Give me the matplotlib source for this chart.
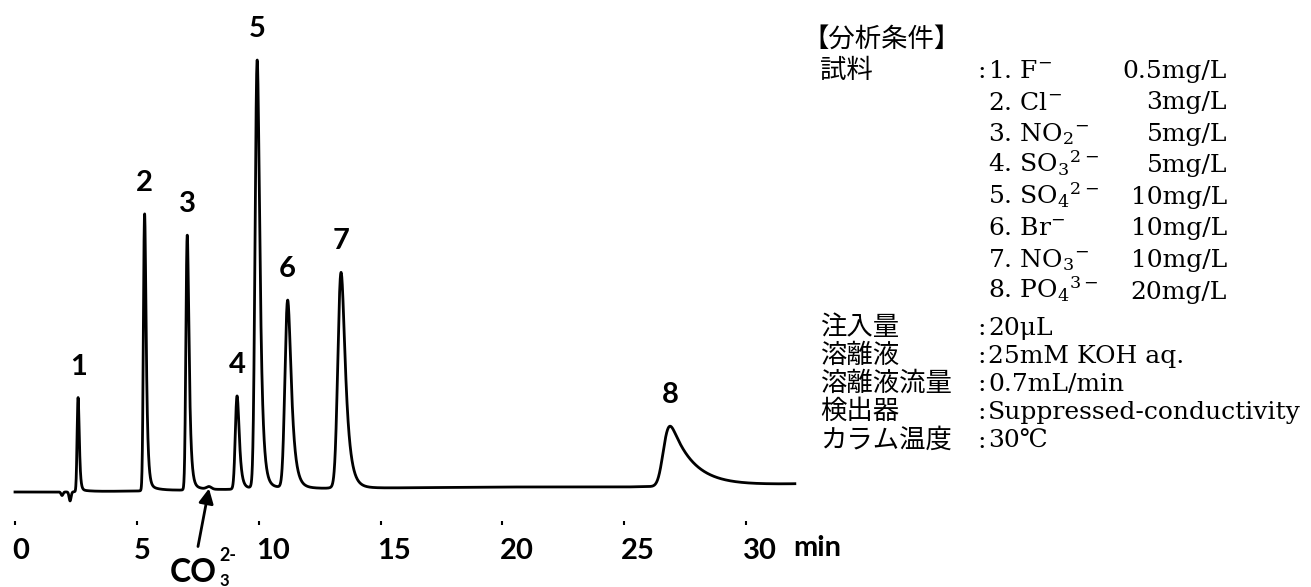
import numpy as np
import matplotlib
matplotlib.use("Agg")
import matplotlib.pyplot as plt

# ---- chromatogram data (time in min, signal in uS) ----
peak_ids = ["1", "2", "3", "4", "5", "6", "7", "8"]
ret_time = [2.59, 5.32, 7.07, 9.11, 9.94, 11.19, 13.38, 26.88]
height = [0.93, 2.73, 2.51, 0.91, 4.21, 1.83, 2.10, 0.60]
sigma = [0.035, 0.04, 0.045, 0.06, 0.07, 0.09, 0.105, 0.18]
tau = [0.04, 0.06, 0.07, 0.08, 0.10, 0.14, 0.17, 0.90]
tail_frac = [0.02, 0.02, 0.02, 0.03, 0.02, 0.03, 0.03, 0.0]

# water dip before peak 1 and the carbonate bump
dip_time = [1.93, 2.26]
dip_depth = [0.035, 0.09]
co3_time = 7.96
co3_height = 0.025

# baseline drift
drift_time = [0, 2, 5, 10, 15, 20, 25, 32]
drift_level = [0, 0, 0.01, 0.03, 0.04, 0.05, 0.05, 0.08]

x_ticks = [0, 5, 10, 15, 20, 25, 30]

# ---- conditions block ----
cond_title = "【分析条件】"
cond_labels = ["試料", "注入量", "溶離液", "溶離液流量", "検出器", "カラム温度"]
sample_ions = ["1. F${}^{-}$", "2. Cl${}^{-}$", "3. NO$_{2}{}^{-}$", "4. SO$_{3}{}^{2-}$",
               "5. SO$_{4}{}^{2-}$", "6. Br${}^{-}$", "7. NO$_{3}{}^{-}$", "8. PO$_{4}{}^{3-}$"]
sample_conc = ["0.5mg/L", "3mg/L", "5mg/L", "5mg/L", "10mg/L", "10mg/L", "10mg/L", "20mg/L"]
cond_values = ["20μL", "25mM KOH aq.", "0.7mL/min", "Suppressed-conductivity", "30℃"]


def emg(t, tr, h, s, k):
    # gaussian convolved with an exponential, apex put back on tr
    dt = t[1] - t[0]
    g = np.exp(-0.5 * ((t - tr) / s) ** 2)
    kt = np.arange(0, 10 * k, dt)
    kern = np.exp(-kt / k)
    y = np.convolve(g, kern)[:len(t)]
    shift = t[np.argmax(y)] - tr
    y = np.interp(t + shift, t, y)
    return h * y / y.max()


t = np.arange(0, 32.0001, 0.005)
sig = np.interp(t, drift_time, drift_level)
for i in range(len(ret_time)):
    sig += emg(t, ret_time[i], height[i], sigma[i], tau[i])
    if tail_frac[i] > 0:
        sig += emg(t, ret_time[i] + 0.1, height[i] * tail_frac[i], sigma[i] * 2, 0.4)
for dt_, dd in zip(dip_time, dip_depth):
    sig -= dd * np.exp(-0.5 * ((t - dt_) / 0.04) ** 2)
sig += co3_height * np.exp(-0.5 * ((t - co3_time) / 0.1) ** 2)

W, H = 1311, 587
fig = plt.figure(figsize=(W / 100, H / 100), dpi=100)


def fx(x):
    return x / W


def fy(y):
    return 1 - y / H


bold = dict(family="Lato", fontweight="bold", fontsize=21)

ax = fig.add_axes([0, fy(521), fx(800), 521 / H])
ax.plot(t, sig, color="black", lw=2.0)
ax.set_xlim(-15 / 24.37, 785 / 24.37)
ax.set_ylim(-0.29, 4.92)
for s in ax.spines.values():
    s.set_visible(False)
ax.set_yticks([])
ax.set_xticks(x_ticks)
ax.set_xticklabels([str(v) for v in x_ticks], **bold)
ax.tick_params(axis="x", length=3, width=1.5, direction="out", pad=9)
offset = matplotlib.transforms.ScaledTranslation(-3 / 100, 0, fig.dpi_scale_trans)
for lab in ax.get_xticklabels():
    lab.set_horizontalalignment("left")
    lab.set_transform(lab.get_transform() + offset)
ax.text(31.95, (521 - 548) / 521, "min", transform=ax.get_xaxis_transform(),
        ha="left", va="center", **bold)

# peak numbers
for i, pid in enumerate(peak_ids):
    top = np.interp(ret_time[i], t, sig)
    ax.annotate(pid, xy=(ret_time[i], top), xytext=(0, 31 * 0.72),
                textcoords="offset points", ha="center", va="center", **bold)

# carbonate label with arrow
co3_top = np.interp(co3_time, t, sig)
ax.annotate("", xy=(co3_time, co3_top - 0.02), xytext=(-11 * 0.72, -58 * 0.72),
            textcoords="offset points", annotation_clip=False,
            arrowprops=dict(arrowstyle="-|>", color="black", lw=2, mutation_scale=22,
                            shrinkA=0, shrinkB=0))
fig.text(fx(193), fy(582), "CO", ha="center", va="baseline", family="Lato",
         fontweight="bold", fontsize=23)
fig.text(fx(219), fy(586), "3", ha="left", va="baseline", family="Lato",
         fontweight="bold", fontsize=12)
fig.text(fx(219), fy(561), "2-", ha="left", va="baseline", family="Lato",
         fontweight="bold", fontsize=13)

# conditions text
plt.rcParams["mathtext.fontset"] = "dejavuserif"
jp = dict(family="Noto Sans CJK JP", fontsize=19)
serif = dict(family=["DejaVu Serif", "Noto Sans CJK JP"], fontsize=18)

fig.text(fx(802), fy(47), cond_title, va="baseline", **jp)

sample_base = [78, 109.5, 141, 172.5, 204, 235.5, 267, 298.5]
fig.text(fx(820), fy(sample_base[0]), cond_labels[0], va="baseline", **jp)
fig.text(fx(977), fy(sample_base[0]), ":", va="baseline", **serif)
for i in range(len(sample_ions)):
    fig.text(fx(988), fy(sample_base[i]), sample_ions[i], va="baseline", **serif)
    fig.text(fx(1227), fy(sample_base[i]), sample_conc[i], va="baseline", ha="right", **serif)

cond_base = [335, 363, 391, 419, 448]
for i in range(len(cond_values)):
    fig.text(fx(820), fy(cond_base[i]), cond_labels[i + 1], va="baseline", **jp)
    fig.text(fx(977), fy(cond_base[i]), ":", va="baseline", **serif)
    fig.text(fx(988), fy(cond_base[i]), cond_values[i], va="baseline", **serif)

fig.savefig("out.png", dpi=100, facecolor="white")
